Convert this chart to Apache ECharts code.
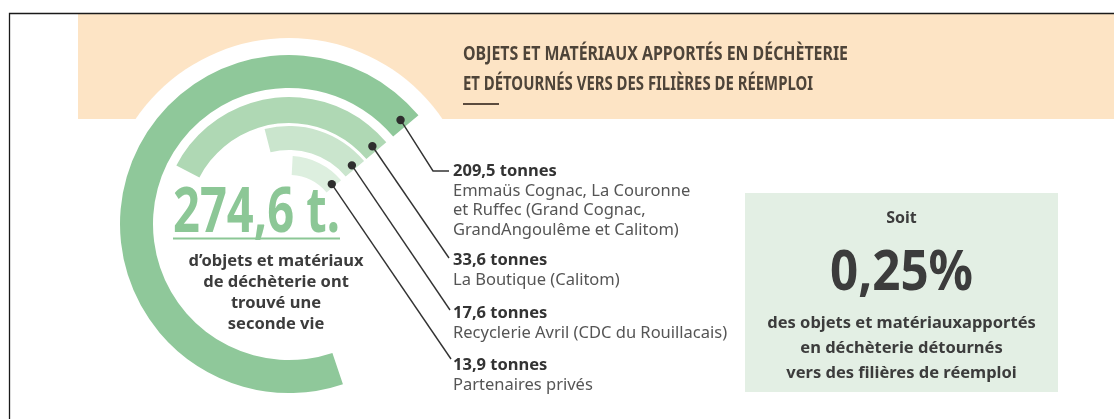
<!DOCTYPE html>
<html>
<head>
<meta charset="utf-8">
<title>Objets et matériaux détournés vers le réemploi</title>
<script src="https://cdn.jsdelivr.net/npm/echarts@6/dist/echarts.min.js"></script>
<style>
html, body { margin: 0; padding: 0; background: #fff; }
#main { width: 1114px; height: 419px; }
</style>
</head>
<body>
<div id="main"></div>
<script>
// données (tonnes détournées par filière)
var sites = ['Emmaüs Cognac, La Couronne\net Ruffec (Grand Cognac,\nGrandAngoulême et Calitom)',
             'La Boutique (Calitom)',
             'Recyclerie Avril (CDC du Rouillacais)',
             'Partenaires privés'];
var tonnes = [209.5, 33.6, 17.6, 13.9];
var partReemploi = 0.25; // % des apports en déchèterie
var titre = ['OBJETS ET MATÉRIAUX APPORTÉS EN DÉCHÈTERIE', 'ET DÉTOURNÉS VERS DES FILIÈRES DE RÉEMPLOI'];

// mise en page
var cx = 289, cy = 224;
var ringR0 = [136, 101, 74, 49];
var ringR1 = [169, 127, 98, 68];
var ringColors = ['#8fc89a', '#afd8b4', '#cae5cd', '#ddefdf'];
var labelX = 453;
var labelY = [171, 260, 313, 365];
var leaderEnd = [[[433, 171], [449, 171]], [[449, 258]], [[450, 310]], [[451, 359]]];
var titleWidth = [385, 350];
var darkText = '#3c3c3c';

var chart = echarts.init(document.getElementById('main'));

function fr(v, d) { return v.toFixed(d).replace('.', ','); }

var measureCtx = document.createElement('canvas').getContext('2d');
function fitScale(text, font, width) {
    measureCtx.font = font;
    return width / measureCtx.measureText(text).width;
}
function polarPt(r, deg) {
    var a = deg * Math.PI / 180;
    return [cx + r * Math.cos(a), cy - r * Math.sin(a)];
}

var polar = [], angleAxis = [], radiusAxis = [], series = [];
tonnes.forEach(function (t, i) {
    polar.push({ center: [cx, cy], radius: [ringR0[i], ringR1[i]] });
    angleAxis.push({
        polarIndex: i, type: 'log', min: 7.4, max: 937, startValue: 7.4,
        startAngle: 40, clockwise: false, show: false
    });
    radiusAxis.push({ polarIndex: i, type: 'category', data: [sites[i]], show: false });
    series.push({
        type: 'bar', coordinateSystem: 'polar', polarIndex: i,
        barWidth: '100%', silent: true,
        itemStyle: { color: ringColors[i] },
        data: [t]
    });
});

var total = tonnes.reduce(function (a, b) { return a + b; }, 0);

var elements = [
    // bandeau du titre
    { type: 'rect', z: 0, shape: { x: 78, y: 14, width: 1040, height: 105 }, style: { fill: '#fde4c5' } },
    { type: 'circle', z: 1, shape: { cx: cx, cy: cy, r: 186 }, style: { fill: '#fff' } },
    { type: 'rect', z: 0, shape: { x: 745, y: 193, width: 313, height: 199 }, style: { fill: '#e3efe4' } },
    { type: 'polyline', z: 20, shape: { points: [[9.5, 430], [9.5, 13.5], [1120, 13.5]] },
      style: { stroke: '#1a1a1a', lineWidth: 1.3, fill: null } },
    { type: 'line', z: 10, shape: { x1: 463, y1: 104, x2: 499, y2: 104 }, style: { stroke: '#5b4b3e', lineWidth: 2 } }
];

var titleFont = 'bold 20px "Noto Sans"';
titre.forEach(function (t, i) {
    elements.push({
        type: 'text', z: 10, x: 463, y: 54 + i * 30, scaleX: fitScale(t, titleFont, titleWidth[i]),
        style: { text: t, font: titleFont, fill: '#4e4439', textAlign: 'left', textVerticalAlign: 'middle' }
    });
});

// total au centre
var totalText = fr(total, 1) + ' t.';
var totalFont = 'bold 63px "Noto Sans"';
elements.push({
    type: 'text', z: 10, x: 256.5, y: 214, scaleX: fitScale(totalText, totalFont, 167),
    style: { text: totalText, font: totalFont, fill: '#8cc796', textAlign: 'center', textVerticalAlign: 'middle' }
});
elements.push({ type: 'line', z: 10, shape: { x1: 173, y1: 238.5, x2: 340, y2: 238.5 }, style: { stroke: '#8cc796', lineWidth: 2 } });
elements.push({
    type: 'text', z: 10, x: 276, y: 250.5,
    style: { text: 'd\u2019objets et matériaux\nde déchèterie ont\ntrouvé une\nseconde vie',
             font: 'bold 16.5px "Noto Sans"', lineHeight: 21, fill: darkText,
             textAlign: 'center', textVerticalAlign: 'top' }
});

// étiquettes et traits de rappel
tonnes.forEach(function (t, i) {
    var dot = polarPt((ringR0[i] + ringR1[i]) / 2, 43);
    elements.push({ type: 'polyline', z: 10, shape: { points: [dot].concat(leaderEnd[i]) },
        style: { stroke: '#333', lineWidth: 1.4, fill: null } });
    elements.push({ type: 'circle', z: 11, shape: { cx: dot[0], cy: dot[1], r: 4.2 }, style: { fill: '#2e2e2e' } });
    elements.push({
        type: 'text', z: 10, x: labelX, y: labelY[i],
        style: { text: fr(t, 1) + ' tonnes', font: 'bold 16.5px "Noto Sans"', fill: '#333',
                 textAlign: 'left', textVerticalAlign: 'middle' }
    });
    elements.push({
        type: 'text', z: 10, x: labelX, y: labelY[i] + 20 - 9.75,
        style: { text: sites[i], font: '16.5px "Noto Sans"', lineHeight: 19.5, fill: '#555',
                 textAlign: 'left', textVerticalAlign: 'top' }
    });
});

// encadré
var pctText = fr(partReemploi, 2) + '%';
var pctFont = 'bold 56px "Noto Sans"';
elements.push({ type: 'text', z: 10, x: 901.5, y: 218,
    style: { text: 'Soit', font: 'bold 16px "Noto Sans"', fill: darkText, textAlign: 'center', textVerticalAlign: 'middle' } });
elements.push({ type: 'text', z: 10, x: 901.5, y: 274, scaleX: fitScale(pctText, pctFont, 143),
    style: { text: pctText, font: pctFont, fill: darkText, textAlign: 'center', textVerticalAlign: 'middle' } });
elements.push({ type: 'text', z: 10, x: 901.5, y: 310.5,
    style: { text: 'des objets et matériauxapportés\nen déchèterie détournés\nvers des filières de réemploi',
             font: 'bold 16.5px "Noto Sans"', lineHeight: 25, fill: darkText,
             textAlign: 'center', textVerticalAlign: 'top' } });

chart.setOption({
    animation: false,
    backgroundColor: '#fff',
    polar: polar,
    angleAxis: angleAxis,
    radiusAxis: radiusAxis,
    series: series,
    graphic: { elements: elements }
});
</script>
</body>
</html>
